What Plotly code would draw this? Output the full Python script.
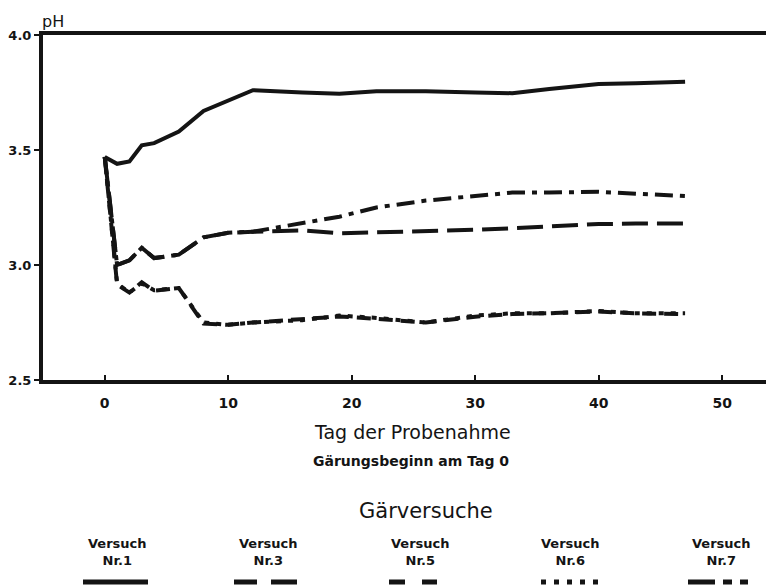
import plotly.graph_objects as go

# ---- data ----
days = [0, 1, 2, 3, 4, 6, 8, 10, 12, 16, 19, 22, 26, 30, 33, 36, 40, 43, 47]

ph_nr1 = [3.47, 3.44, 3.45, 3.52, 3.53, 3.58, 3.67, 3.715, 3.76, 3.75, 3.745, 3.755,
          3.755, 3.75, 3.747, 3.765, 3.787, 3.79, 3.797]
ph_nr3 = [3.47, 3.00, 3.02, 3.075, 3.03, 3.045, 3.12, 3.14, 3.145, 3.15, 3.138, 3.142,
          3.145, 3.153, 3.16, 3.167, 3.178, 3.18, 3.18]
ph_nr5 = [3.47, 2.915, 2.88, 2.925, 2.888, 2.90, 2.745, 2.74, 2.75, 2.765, 2.776, 2.766,
          2.75, 2.775, 2.787, 2.79, 2.798, 2.79, 2.786]
ph_nr6 = [3.47, 2.92, 2.88, 2.92, 2.89, 2.90, 2.75, 2.74, 2.75, 2.76, 2.78, 2.77,
          2.75, 2.78, 2.79, 2.79, 2.80, 2.79, 2.79]
ph_nr7 = [3.47, 3.00, 3.02, 3.075, 3.03, 3.045, 3.12, 3.14, 3.145, 3.18, 3.21, 3.25,
          3.28, 3.30, 3.315, 3.315, 3.318, 3.31, 3.30]

x_ticks = [0, 10, 20, 30, 40, 50]
y_ticks = [2.5, 3.0, 3.5, 4.0]
y_ticklabels = ["2.5", "3.0", "3.5", "4.0"]

series_names = ["Versuch<br>Nr.1", "Versuch<br>Nr.3", "Versuch<br>Nr.5", "Versuch<br>Nr.6", "Versuch<br>Nr.7"]

# ---- styling ----
INK = "#141414"
FONT = "DejaVu Sans"
OFF = 8                      # page body margin of the browser
W, H = 774 - OFF, 588 - OFF  # figure size so that it fills the window
L, R, T, B = 43 - OFF, 0, 35 - OFF, 208
PW, PH = W - L - R, H - T - B

def px(xp):
    # window pixel -> paper x
    return (xp - OFF - L) / PW

def py(yp):
    # window pixel -> paper y
    return (H - B - (yp - OFF)) / PH

chart_dash = {
    "Nr.1": "solid",
    "Nr.3": "26px,9px",
    "Nr.5": "14px,8px",
    "Nr.6": "5px,7px",
    "Nr.7": "18px,7px,5px,7px",
}

fig = go.Figure()
for name, vals in [("Nr.1", ph_nr1), ("Nr.3", ph_nr3), ("Nr.7", ph_nr7),
                   ("Nr.5", ph_nr5), ("Nr.6", ph_nr6)]:
    fig.add_trace(go.Scatter(
        x=days, y=vals, mode="lines", name=name, showlegend=False,
        line=dict(color=INK, width=4, dash=chart_dash[name]),
    ))

fig.update_layout(
    width=W, height=H,
    margin=dict(l=L, r=R, t=T, b=B, autoexpand=False),
    paper_bgcolor="white", plot_bgcolor="white",
    font=dict(family=FONT, color=INK),
    xaxis=dict(
        range=[-5, 54.2], tickvals=x_ticks, ticks="inside", ticklen=5, tickwidth=1.5,
        tickcolor=INK, showline=True, linecolor=INK, linewidth=4, mirror=True,
        showgrid=False, zeroline=False, ticklabelstandoff=7,
        tickfont=dict(family=FONT, size=14, color=INK, weight="bold"),
    ),
    yaxis=dict(
        range=[2.5, 4.0], tickvals=y_ticks, ticktext=y_ticklabels, ticks="outside",
        ticklen=5, tickwidth=1.5, tickcolor=INK, showline=True, linecolor=INK,
        linewidth=4, showgrid=False, zeroline=False,
        tickfont=dict(family=FONT, size=13, color=INK, weight="bold"),
    ),
)

annotations = [
    dict(text="pH", x=px(40), y=py(21), xanchor="left", yanchor="middle",
         font=dict(size=16, family=FONT, color=INK)),
    dict(text="Tag der Probenahme", x=px(412), y=py(432), xanchor="center", yanchor="middle",
         font=dict(size=19, family=FONT, color=INK)),
    dict(text="Gärungsbeginn am Tag 0", x=px(411), y=py(461), xanchor="center", yanchor="middle",
         font=dict(size=14, family=FONT, color=INK, weight="bold")),
    dict(text="Gärversuche", x=px(426), y=py(511), xanchor="center", yanchor="middle",
         font=dict(size=21, family=FONT, color=INK)),
]

legend_centers = [117, 268, 420, 570, 721]
for name, cx in zip(series_names, legend_centers):
    annotations.append(dict(text=name, x=px(cx), y=py(552), xanchor="center", yanchor="middle",
                            font=dict(size=13, family=FONT, color=INK, weight="bold")))
for a in annotations:
    a.update(xref="paper", yref="paper", showarrow=False)
fig.update_layout(annotations=annotations)

legend_samples = [
    (83, 148, "solid"),
    (234, 297, "23px,14px,26px"),
    (389, 437, "16px,17px,15px"),
    (541, 598, "5px,8px"),
    (688, 748, "27px,8px,9px,8px,8px"),
]
for x0, x1, dash in legend_samples:
    fig.add_shape(type="line", xref="paper", yref="paper",
                  x0=px(x0), x1=px(x1), y0=py(582), y1=py(582),
                  line=dict(color=INK, width=5, dash=dash))

fig.write_html("out.html")
